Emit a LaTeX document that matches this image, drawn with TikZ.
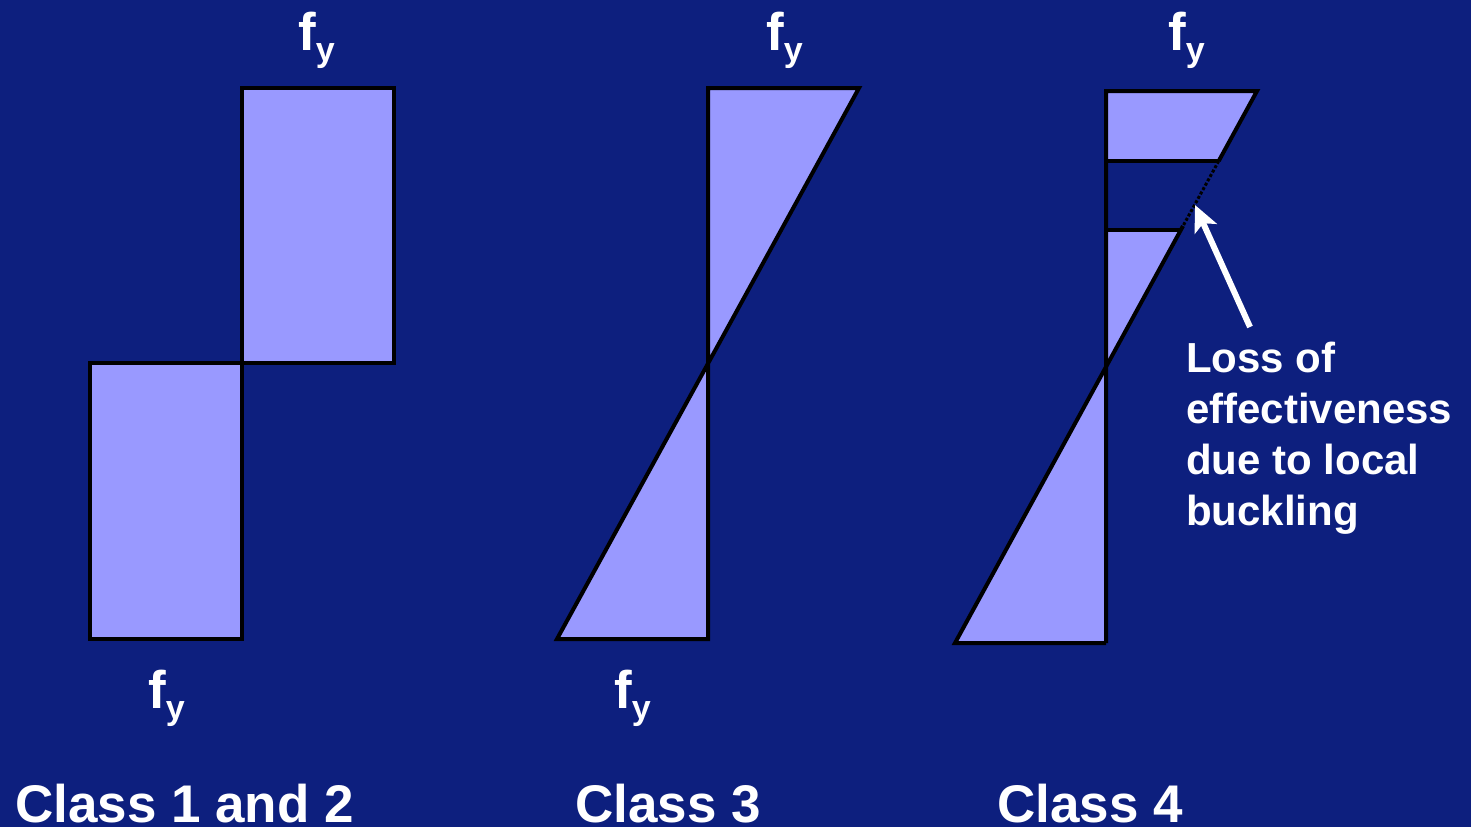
\documentclass[tikz,border=0pt]{standalone}
\usepackage{fontspec}
\setmainfont{Liberation Sans}
\usetikzlibrary{arrows.meta}
\definecolor{slideblue}{RGB}{13,31,126}
\definecolor{stressfill}{RGB}{153,153,255}

\newcommand{\fy}{{\fontsize{53}{60}\selectfont f}\raisebox{-11pt}{\fontsize{34}{40}\selectfont y}}

\tikzset{
  block/.style={draw=black, line width=4pt, fill=stressfill, line join=miter},
  edge/.style={draw=black, line width=4pt},
  lbl/.style={text=white, font=\bfseries, inner sep=0pt, anchor=base west},
  title/.style={lbl, font=\bfseries\fontsize{53}{60}\selectfont}
}

\begin{document}
\begin{tikzpicture}[x=1pt, y=-1pt]
  % background
  \fill[slideblue] (0,0) rectangle (1471,827);
  \useasboundingbox (0,0) rectangle (1471,827);

  % class 1 and 2
  \draw[block] (242,88) rectangle (394,363);
  \draw[block] (90,363) rectangle (242,639);
  \node[lbl] (fyA) at (298,50) {\fy};
  \node[lbl] (fyB) at (148,708) {\fy};
  \node[title] (cA) at (15,822) {Class 1 and 2};

  % class 3
  \fill[stressfill] (708,88) -- (859,88) -- (708,363.5) -- cycle;
  \fill[stressfill] (708,363.5) -- (708,639) -- (557,639) -- cycle;
  \draw[edge, line join=miter] (708,639) -- (708,88) -- (859,88) -- (557,639) -- cycle;
  \node[lbl] (fyC) at (766,50) {\fy};
  \node[lbl] (fyD) at (614,708) {\fy};
  \node[title] (cB) at (575,822) {Class 3};

  % class 4
  \fill[stressfill] (1106,91) -- (1257,91) -- (1218.7,161) -- (1106,161) -- cycle;
  \fill[stressfill] (1106,230) -- (1181,230) -- (955,643) -- (1106,643) -- cycle;
  \draw[edge, line join=miter] (1106,643) -- (1106,91) -- (1257,91) -- (1218.7,161);
  \draw[edge] (1106,161) -- (1218.7,161);
  \draw[edge] (1106,230) -- (1181,230);
  \draw[edge, line join=miter] (1183,226) -- (955,643) -- (1106,643);
  \draw[black, line width=3pt, dotted] (1218.7,161) -- (1183,226);
  \node[lbl] (fyE) at (1168,50) {\fy};
  \node[title] (cC) at (997,822) {Class 4};

  % note and arrow
  \node[lbl, align=left, font=\bfseries\fontsize{42}{51}\selectfont] (loss) at (1186,525)
    {Loss of\\effectiveness\\due to local\\buckling};
  \coordinate (tail) at (1250,327);
  \coordinate (tip) at (1195,205);
  \draw[white, line width=6pt, -{Stealth[length=26pt, width=24pt, inset=6pt]}] (tail) -- (tip);
\end{tikzpicture}
\end{document}
